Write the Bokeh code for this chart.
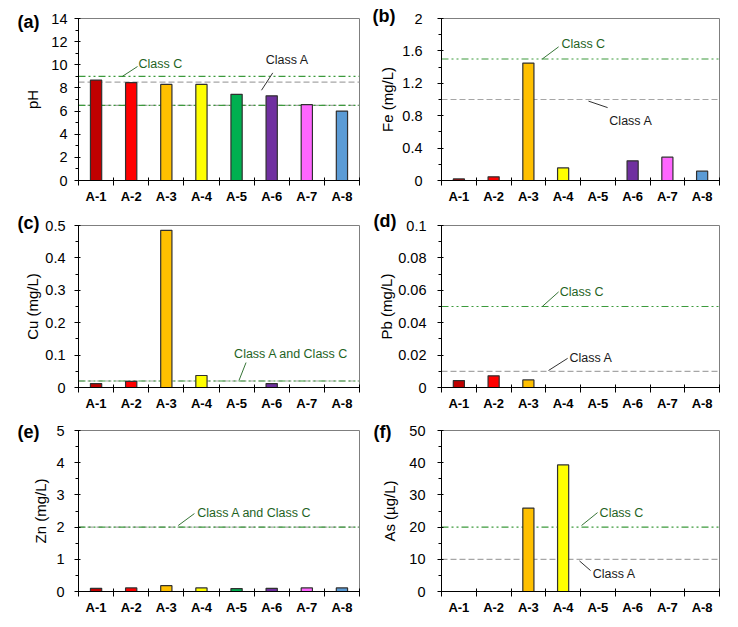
from bokeh.plotting import figure
from bokeh.models import (Range1d, FixedTicker, SingleIntervalTicker, CustomJSTickFormatter,
                          NumeralTickFormatter, Span, Label, ColumnDataSource)
from bokeh.layouts import column, row
from bokeh.embed import file_html
from bokeh.resources import INLINE

# ---------------- data ----------------
sites = ["A-1", "A-2", "A-3", "A-4", "A-5", "A-6", "A-7", "A-8"]
colors = ["#C00000", "#FF0000", "#FFC000", "#FFFF00", "#00B050", "#7030A0", "#FF66FF", "#5B9BD5"]

ph = [8.68, 8.45, 8.3, 8.3, 7.45, 7.32, 6.55, 6.0]
fe = [0.02, 0.045, 1.45, 0.155, 0.0, 0.243, 0.288, 0.115]
cu = [0.012, 0.019, 0.485, 0.037, 0.0, 0.012, 0.0, 0.0]
pb = [0.0043, 0.0072, 0.0047, 0.0, 0.0, 0.0, 0.0, 0.0]
zn = [0.10, 0.11, 0.18, 0.11, 0.09, 0.10, 0.11, 0.11]
as_ = [0.0, 0.0, 25.9, 39.3, 0.0, 0.0, 0.0, 0.0]

ph_class_a = [6.5, 8.5]
ph_class_c = [6.5, 9.0]
fe_class_a = [1.0]
fe_class_c = [1.5]
cu_class_ac = [0.02]
pb_class_a = [0.01]
pb_class_c = [0.05]
zn_class_ac = [2.0]
as_class_a = [10.0]
as_class_c = [20.0]

FONT = "Liberation Sans"
GREEN_LINE = "#3C9A3C"
GREEN_TEXT = "#1F641F"
GRAY_LINE = "#A6A6A6"
DASH_C = "7 3 2 3 2 3"
DASH_A = "6 3"


def make_panel(vals, ymax, step, ylabel, letter, side, row_i, tick_standoff, label_standoff,
               class_a=(), class_c=(), letter_offset=-61, letter_standoff=-10):
    left = side == 0
    p = figure(output_backend="svg", toolbar_location=None,
               frame_width=281 if left else 278,
               frame_height=[162, 162, 161][row_i],
               min_border_left=78,
               min_border_right=4 if left else 9,
               min_border_top=[18, 15, 15][row_i],
               min_border_bottom=[30, 28, 28][row_i],
               x_range=Range1d(0, len(sites)), y_range=Range1d(0, ymax))
    p.background_fill_color = "white"
    p.border_fill_color = "white"
    p.outline_line_color = "#7F7F7F"
    p.outline_line_width = 1
    p.xgrid.visible = False
    p.ygrid.visible = False

    # panel letter as title
    p.title.text = letter
    p.title.align = "left"
    p.title.offset = letter_offset
    p.title.standoff = letter_standoff
    p.title.vertical_align = "bottom"
    p.title.text_font = FONT
    p.title.text_font_style = "bold"
    p.title.text_font_size = "18px"
    p.title.text_color = "black"

    # threshold lines (under bars)
    for v in class_a:
        p.add_layout(Span(location=v, dimension="width", line_color=GRAY_LINE,
                          line_width=1.2, line_dash=DASH_A, level="underlay"))
    for v in class_c:
        p.add_layout(Span(location=v, dimension="width", line_color=GREEN_LINE,
                          line_width=1.2, line_dash=DASH_C, level="underlay"))

    xs = [i + 0.5 for i in range(len(sites))]
    src = ColumnDataSource(dict(x=xs, top=vals, color=colors))
    p.vbar(x="x", top="top", bottom=0, width=0.32, fill_color="color",
           line_color="#303030", line_width=1.2, source=src)

    # x axis
    xa = p.xaxis[0]
    xa.ticker = FixedTicker(ticks=xs, minor_ticks=list(range(len(sites) + 1)))
    xa.formatter = CustomJSTickFormatter(args=dict(labels=sites),
                                         code="return labels[Math.round(tick - 0.5)];")
    xa.major_tick_in = 0
    xa.major_tick_out = 0
    xa.minor_tick_in = 3
    xa.minor_tick_out = 5
    xa.minor_tick_line_color = "black"
    xa.axis_line_color = "black"
    xa.major_label_standoff = 3
    xa.major_label_text_font = FONT
    xa.major_label_text_font_style = "bold"
    xa.major_label_text_font_size = "13px"
    xa.major_label_text_color = "black"

    # y axis
    ya = p.yaxis[0]
    ya.ticker = SingleIntervalTicker(interval=step, num_minor_ticks=2)
    ya.formatter = NumeralTickFormatter(format="0.[00]")
    ya.major_tick_in = 2
    ya.major_tick_out = 4
    ya.minor_tick_in = 0
    ya.minor_tick_out = 3
    ya.axis_line_color = "black"
    ya.major_tick_line_color = "black"
    ya.minor_tick_line_color = "black"
    ya.major_label_standoff = tick_standoff
    ya.major_label_text_font = FONT
    ya.major_label_text_font_size = "14.5px"
    ya.major_label_text_color = "black"
    ya.axis_label = ylabel
    ya.axis_label_standoff = label_standoff
    ya.axis_label_text_font = FONT
    ya.axis_label_text_font_size = "15px"
    ya.axis_label_text_font_style = "normal"
    ya.axis_label_text_color = "black"
    return p


def note(p, text, tx, ty, lx0, ly0, lx1, ly1, green):
    col_t = GREEN_TEXT if green else "#1A1A1A"
    p.segment(x0=[lx0], y0=[ly0], x1=[lx1], y1=[ly1], line_color=col_t, line_width=0.9)
    p.add_layout(Label(x=tx, y=ty, text=text, text_font=FONT, text_font_size="12.5px",
                       text_baseline="middle", text_color=col_t))


pa = make_panel(ph, 14, 2, "pH", "(a)", 0, 0, 7, 7,
                class_a=ph_class_a, class_c=ph_class_c, letter_offset=-61, letter_standoff=-27)
note(pa, "Class C", 1.71, 10.1, 1.25, 9.0, 1.68, 9.85, True)
note(pa, "Class A", 5.33, 10.4, 5.21, 7.8, 5.53, 9.3, False)

pb_ = make_panel(fe, 2, 0.4, "Fe (mg/L)", "(b)", 1, 0, 15, 3,
                 class_a=fe_class_a, class_c=fe_class_c, letter_offset=-69, letter_standoff=-15)
note(pb_, "Class C", 3.45, 1.69, 2.9, 1.5, 3.37, 1.65, True)
note(pb_, "Class A", 4.83, 0.74, 4.23, 0.98, 4.78, 0.90, False)

pc = make_panel(cu, 0.5, 0.1, "Cu (mg/L)", "(c)", 0, 1, 9, 1,
                class_a=cu_class_ac, class_c=cu_class_ac, letter_offset=-61, letter_standoff=-15)
note(pc, "Class A and Class C", 4.43, 0.102, 4.57, 0.022, 4.77, 0.077, True)

pd_ = make_panel(pb, 0.1, 0.02, "Pb (mg/L)", "(d)", 1, 1, 11, 0,
                 class_a=pb_class_a, class_c=pb_class_c, letter_offset=-68, letter_standoff=-11)
note(pd_, "Class C", 3.40, 0.059, 2.9, 0.05, 3.37, 0.059, True)
note(pd_, "Class A", 3.68, 0.018, 3.08, 0.0105, 3.63, 0.018, False)

pe = make_panel(zn, 5, 1, "Zn (mg/L)", "(e)", 0, 2, 10, 4,
                class_a=zn_class_ac, class_c=zn_class_ac, letter_offset=-61, letter_standoff=-23)
note(pe, "Class A and Class C", 3.38, 2.45, 2.84, 2.05, 3.3, 2.42, True)

pf = make_panel(as_, 50, 10, "As (µg/L)", "(f)", 1, 2, 12, 8,
                class_a=as_class_a, class_c=as_class_c, letter_offset=-68, letter_standoff=-23)
note(pf, "Class C", 4.55, 24.5, 4.03, 20.5, 4.49, 24.5, True)
note(pf, "Class A", 4.35, 5.3, 3.97, 9.5, 4.29, 6.5, False)

layout = column(row(pa, pb_), row(pc, pd_), row(pe, pf))
open("out.html", "w").write(file_html(layout, INLINE))
